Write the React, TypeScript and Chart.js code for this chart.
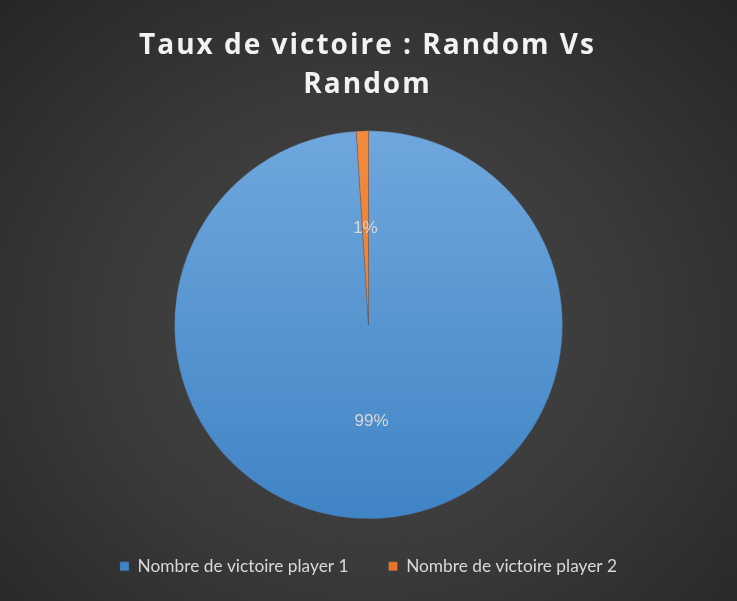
import React, { useEffect, useRef } from "react";
import { Chart, registerables } from "chart.js";

Chart.register(...registerables);

const titleLines = ["Taux de victoire : Random Vs", "Random"];
const categories = ["Nombre de victoire player 1", "Nombre de victoire player 2"];
const values = [99, 1];
const valueLabels = ["99%", "1%"];

const labelPlugin = {
  id: "sliceLabels",
  afterDatasetsDraw(chart: any) {
    const { ctx } = chart;
    const meta = chart.getDatasetMeta(0);
    ctx.save();
    ctx.font = "17px 'Liberation Sans', Arial, sans-serif";
    ctx.fillStyle = "#d9d9d9";
    ctx.textAlign = "center";
    ctx.textBaseline = "middle";
    meta.data.forEach((arc: any, i: number) => {
      const p = arc.getCenterPoint();
      ctx.fillText(valueLabels[i], p.x, p.y);
    });
    ctx.restore();
  },
};

const titlePlugin = {
  id: "spacedTitle",
  afterDraw(chart: any) {
    const { ctx, width } = chart;
    ctx.save();
    ctx.font = "bold 28px 'Open Sans', sans-serif";
    ctx.fillStyle = "#f2f2f2";
    ctx.textAlign = "center";
    ctx.textBaseline = "alphabetic";
    (ctx as any).letterSpacing = "2px";
    titleLines.forEach((line, i) => {
      ctx.fillText(line, width / 2 - 1, 54 + i * 39);
    });
    ctx.restore();
  },
};

function makeGradient(chart: any, top: string, bottom: string) {
  const area = chart.chartArea;
  if (!area) return top;
  const cy = (area.top + area.bottom) / 2;
  const g = chart.ctx.createLinearGradient(0, cy - 194, 0, cy + 194);
  g.addColorStop(0, top);
  g.addColorStop(1, bottom);
  return g;
}

export default function App() {
  const ref = useRef<HTMLCanvasElement | null>(null);
  useEffect(() => {
    document.body.style.margin = "0";
    const chart = new Chart(ref.current as HTMLCanvasElement, {
      type: "pie",
      data: {
        labels: categories,
        datasets: [
          {
            data: values,
            radius: 194,
            backgroundColor: (c: any) =>
              c.dataIndex === 0
                ? makeGradient(c.chart, "#6fa7dd", "#4084c5")
                : makeGradient(c.chart, "#f38a3c", "#e8742b"),
            borderWidth: 0.6,
            borderColor: "rgba(70,80,95,0.55)",
          },
        ],
      },
      options: {
        animation: false,
        responsive: false,
        maintainAspectRatio: false,
        layout: { padding: { top: 132, bottom: 16 } },
        plugins: {
          title: { display: false },
          legend: {
            position: "bottom",
            labels: {
              color: "#d9d9d9",
              boxWidth: 9,
              boxHeight: 9,
              padding: 40,
              font: { family: "Lato, sans-serif", size: 17.3 },
            },
          },
          tooltip: { enabled: false },
        },
      },
      plugins: [labelPlugin, titlePlugin],
    });
    return () => chart.destroy();
  }, []);
  return (
    <div
      style={{
        width: 737,
        height: 601,
        background: "radial-gradient(ellipse at 50% 55%, #484848 0%, #3a3a3a 50%, #262626 100%)",
      }}
    >
      <canvas ref={ref} width={737} height={601} style={{ display: "block" }} />
    </div>
  );
}
